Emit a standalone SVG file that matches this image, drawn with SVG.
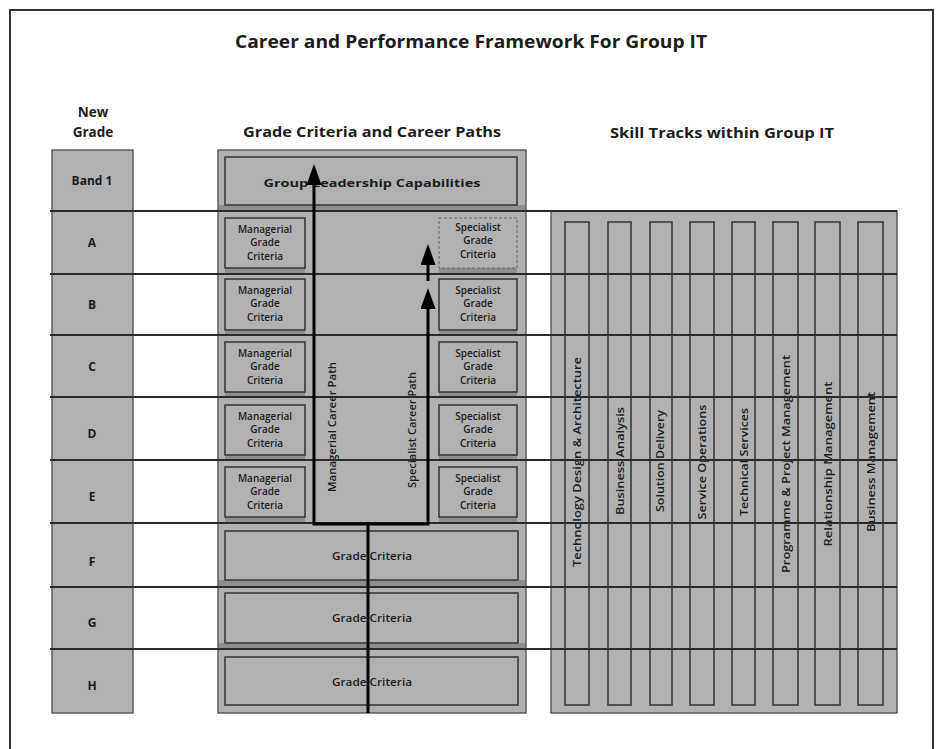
<svg xmlns="http://www.w3.org/2000/svg" width="936" height="749" viewBox="0 0 936 749">
<defs>
<style>
.panel{fill:#b1b1b1;stroke:#4a4a4a;stroke-width:1.3}
.box{fill:#b1b1b1;stroke:#3a3a3a;stroke-width:1.6}
.dbox{fill:#b1b1b1;stroke:#666;stroke-width:1.1;stroke-dasharray:3 2}
.strip{fill:#8e8e8e}
.grid{stroke:#2a2a2a;stroke-width:2;fill:none}
.t{font-family:"Open Sans","Liberation Sans",sans-serif;fill:#1c1c1c}
.hd{font-weight:700;text-anchor:middle}
.sm{font-size:10px;font-weight:600;text-anchor:middle}
.vt{font-size:10.5px;font-weight:600;text-anchor:middle;dominant-baseline:central}
.conn{stroke:#000;stroke-width:3;fill:none;stroke-linejoin:miter}
</style>
<marker id="ah" markerUnits="userSpaceOnUse" markerWidth="22" markerHeight="16" refX="1" refY="7.5" orient="auto">
<path d="M0,0 L21,7.5 L0,15 z" fill="#000"/>
</marker>
</defs>
<rect x="0" y="0" width="936" height="749" fill="#fff"/>
<rect x="10" y="10" width="923" height="800" fill="none" stroke="#333" stroke-width="2"/>

<g id="title">
<text class="t hd" x="471" y="48" font-size="17" font-weight="600" textLength="472" lengthAdjust="spacingAndGlyphs">Career and Performance Framework For Group IT</text>
</g>
<g id="heading-new-grade">
<text class="t hd" x="93" y="117" font-size="13.5">New</text>
<text class="t hd" x="93" y="137" font-size="13.5">Grade</text>
</g>
<g id="heading-criteria">
<text class="t hd" x="372" y="137" font-size="13.5" textLength="258" lengthAdjust="spacingAndGlyphs">Grade Criteria and Career Paths</text>
</g>
<g id="heading-skills">
<text class="t hd" x="722" y="138" font-size="13.5" textLength="224" lengthAdjust="spacingAndGlyphs">Skill Tracks within Group IT</text>
</g>

<g id="grade-column">
<rect class="panel" x="52" y="150" width="81" height="563"/>
<text class="t hd" x="92" y="185" font-size="12">Band 1</text>
<text class="t hd" x="92" y="247" font-size="12">A</text>
<text class="t hd" x="92" y="309" font-size="12">B</text>
<text class="t hd" x="92" y="371" font-size="12">C</text>
<text class="t hd" x="92" y="438" font-size="12">D</text>
<text class="t hd" x="92" y="501" font-size="12">E</text>
<text class="t hd" x="92" y="566" font-size="12">F</text>
<text class="t hd" x="92" y="627" font-size="12">G</text>
<text class="t hd" x="92" y="690" font-size="12">H</text>
</g>

<g id="criteria-panel">
<rect class="panel" x="218" y="150" width="308" height="563"/>
<rect class="strip" x="219" y="205" width="306" height="6"/>
<rect class="strip" x="225" y="268" width="80" height="6"/>
<rect class="strip" x="439" y="268" width="78" height="6"/>
<rect class="strip" x="225" y="330" width="80" height="5"/>
<rect class="strip" x="439" y="330" width="78" height="5"/>
<rect class="strip" x="225" y="392" width="80" height="5"/>
<rect class="strip" x="439" y="392" width="78" height="5"/>
<rect class="strip" x="225" y="455" width="80" height="5"/>
<rect class="strip" x="439" y="455" width="78" height="5"/>
<rect class="strip" x="225" y="517" width="80" height="6"/>
<rect class="strip" x="439" y="517" width="78" height="6"/>
<rect class="strip" x="219" y="580" width="306" height="7"/>
<rect class="strip" x="219" y="643" width="306" height="6"/>
</g>

<g id="group-leadership">
<rect class="box" x="225" y="157" width="292" height="48"/>
<text class="t hd" x="372" y="187" font-size="10.5" textLength="217" lengthAdjust="spacingAndGlyphs">Group Leadership Capabilities</text>
</g>

<g id="managerial-A"><rect class="box" x="225" y="218" width="80" height="50"/>
<text class="t sm" x="265" y="233">Managerial</text><text class="t sm" x="265" y="246">Grade</text><text class="t sm" x="265" y="260">Criteria</text></g>
<g id="managerial-B"><rect class="box" x="225" y="279" width="80" height="51"/>
<text class="t sm" x="265" y="294">Managerial</text><text class="t sm" x="265" y="307">Grade</text><text class="t sm" x="265" y="321">Criteria</text></g>
<g id="managerial-C"><rect class="box" x="225" y="342" width="80" height="50"/>
<text class="t sm" x="265" y="357">Managerial</text><text class="t sm" x="265" y="370">Grade</text><text class="t sm" x="265" y="384">Criteria</text></g>
<g id="managerial-D"><rect class="box" x="225" y="405" width="80" height="50"/>
<text class="t sm" x="265" y="420">Managerial</text><text class="t sm" x="265" y="433">Grade</text><text class="t sm" x="265" y="447">Criteria</text></g>
<g id="managerial-E"><rect class="box" x="225" y="467" width="80" height="50"/>
<text class="t sm" x="265" y="482">Managerial</text><text class="t sm" x="265" y="495">Grade</text><text class="t sm" x="265" y="509">Criteria</text></g>

<g id="specialist-A"><rect class="dbox" x="439" y="218" width="78" height="50"/>
<text class="t sm" x="478" y="231">Specialist</text><text class="t sm" x="478" y="244">Grade</text><text class="t sm" x="478" y="258">Criteria</text></g>
<g id="specialist-B"><rect class="box" x="439" y="279" width="78" height="51"/>
<text class="t sm" x="478" y="294">Specialist</text><text class="t sm" x="478" y="307">Grade</text><text class="t sm" x="478" y="321">Criteria</text></g>
<g id="specialist-C"><rect class="box" x="439" y="342" width="78" height="50"/>
<text class="t sm" x="478" y="357">Specialist</text><text class="t sm" x="478" y="370">Grade</text><text class="t sm" x="478" y="384">Criteria</text></g>
<g id="specialist-D"><rect class="box" x="439" y="405" width="78" height="50"/>
<text class="t sm" x="478" y="420">Specialist</text><text class="t sm" x="478" y="433">Grade</text><text class="t sm" x="478" y="447">Criteria</text></g>
<g id="specialist-E"><rect class="box" x="439" y="467" width="78" height="50"/>
<text class="t sm" x="478" y="482">Specialist</text><text class="t sm" x="478" y="495">Grade</text><text class="t sm" x="478" y="509">Criteria</text></g>

<g id="criteria-F"><rect class="box" x="225" y="531" width="293" height="49"/>
<text class="t sm" x="372" y="560" textLength="80" lengthAdjust="spacingAndGlyphs">Grade Criteria</text></g>
<g id="criteria-G"><rect class="box" x="225" y="593" width="293" height="50"/>
<text class="t sm" x="372" y="622" textLength="80" lengthAdjust="spacingAndGlyphs">Grade Criteria</text></g>
<g id="criteria-H"><rect class="box" x="225" y="657" width="293" height="48"/>
<text class="t sm" x="372" y="686" textLength="80" lengthAdjust="spacingAndGlyphs">Grade Criteria</text></g>

<g id="path-labels">
<text class="t vt" font-size="9.5" x="332" y="427" transform="rotate(-90 332 427)" textLength="130" lengthAdjust="spacingAndGlyphs">Managerial Career Path</text>
<text class="t vt" font-size="9.5" x="412" y="430" transform="rotate(-90 412 430)" textLength="116" lengthAdjust="spacingAndGlyphs">Specialist Career Path</text>
</g>

<g id="skill-tracks">
<rect class="panel" x="551" y="211" width="346" height="502"/>
<g id="track-1"><rect class="box" x="565" y="222" width="24" height="483"/>
<text class="t vt" x="577" y="462" transform="rotate(-90 577 462)" textLength="210" lengthAdjust="spacingAndGlyphs">Technology Design &amp; Architecture</text></g>
<g id="track-2"><rect class="box" x="608" y="222" width="23" height="483"/>
<text class="t vt" x="619.5" y="461" transform="rotate(-90 619.5 461)" textLength="108" lengthAdjust="spacingAndGlyphs">Business Analysis</text></g>
<g id="track-3"><rect class="box" x="650" y="222" width="22" height="483"/>
<text class="t vt" x="660" y="461" transform="rotate(-90 660 461)" textLength="102" lengthAdjust="spacingAndGlyphs">Solution Delivery</text></g>
<g id="track-4"><rect class="box" x="690" y="222" width="24" height="483"/>
<text class="t vt" x="702" y="462" transform="rotate(-90 702 462)" textLength="115" lengthAdjust="spacingAndGlyphs">Service Operations</text></g>
<g id="track-5"><rect class="box" x="732" y="222" width="23" height="483"/>
<text class="t vt" x="743.5" y="462" transform="rotate(-90 743.5 462)" textLength="108" lengthAdjust="spacingAndGlyphs">Technical Services</text></g>
<g id="track-6"><rect class="box" x="773" y="222" width="25" height="483"/>
<text class="t vt" x="786" y="464" transform="rotate(-90 786 464)" textLength="218" lengthAdjust="spacingAndGlyphs">Programme &amp; Project Management</text></g>
<g id="track-7"><rect class="box" x="815" y="222" width="25" height="483"/>
<text class="t vt" x="828" y="464" transform="rotate(-90 828 464)" textLength="165" lengthAdjust="spacingAndGlyphs">Relationship Management</text></g>
<g id="track-8"><rect class="box" x="858" y="222" width="25" height="483"/>
<text class="t vt" x="870.5" y="462" transform="rotate(-90 870.5 462)" textLength="140" lengthAdjust="spacingAndGlyphs">Business Management</text></g>
</g>

<g id="grade-lines">
<path class="grid" d="M50,211 H897 M50,274 H897 M50,335 H897 M50,397 H897 M50,460 H897 M50,523 H897 M50,649 H897"/>
<path class="grid" stroke="#777" d="M50,587 H897"/>
</g>

<g id="connectors">
<path class="conn" d="M368,713 V524"/>
<path class="conn" d="M369.5,524 H314 V184" marker-end="url(#ah)"/>
<path class="conn" d="M366.5,524 H428 V308" marker-end="url(#ah)"/>
<path class="conn" d="M428,281 V264" marker-end="url(#ah)"/>
</g>
</svg>
